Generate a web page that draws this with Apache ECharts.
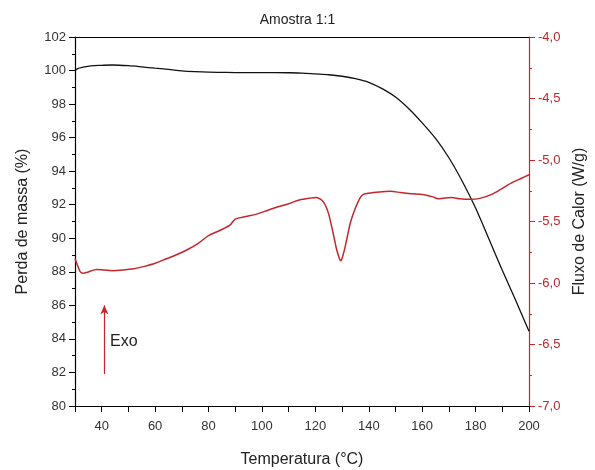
<!DOCTYPE html>
<html>
<head>
<meta charset="utf-8">
<script src="https://cdn.jsdelivr.net/npm/echarts@6/dist/echarts.min.js"></script>
<style>html,body{margin:0;padding:0;background:#fff}#c{width:595px;height:470px}</style>
</head>
<body>
<div id="c"></div>
<script>
// TGA (mass loss, left axis)
const tgaTemp = [30, 31, 33, 36, 40, 44, 50, 55, 60, 65, 70, 75, 80, 85, 90, 95, 100, 105, 110, 115, 120, 125, 130, 135, 140, 145, 150, 155, 160, 165, 170, 175, 180, 185, 190, 195, 200];
const tgaMass = [100.0, 100.12, 100.2, 100.28, 100.31, 100.33, 100.29, 100.22, 100.14, 100.07, 99.98, 99.93, 99.9, 99.89, 99.88, 99.88, 99.88, 99.88, 99.87, 99.85, 99.8, 99.75, 99.66, 99.52, 99.3, 98.92, 98.42, 97.72, 96.88, 95.95, 94.8, 93.4, 91.8, 89.95, 88.1, 86.3, 84.45];
// DSC (heat flow, right axis)
const dscTemp = [30, 31, 32, 33, 35, 38, 41, 44, 48, 52, 56, 60, 64, 68, 72, 76, 80, 84, 88, 90, 94, 98, 102, 106, 110, 114, 118, 120.5, 122, 123, 124, 125, 126, 127, 128, 129, 129.5, 130, 131, 132, 133, 134, 135, 136, 137, 138, 140, 144, 148, 152, 156, 160, 164, 166, 168, 171, 174, 178, 182, 186, 190, 194, 197, 200];
const dscHeat = [-5.8, -5.86, -5.91, -5.92, -5.91, -5.89, -5.895, -5.9, -5.895, -5.885, -5.865, -5.84, -5.805, -5.77, -5.73, -5.68, -5.615, -5.575, -5.53, -5.48, -5.46, -5.44, -5.41, -5.38, -5.355, -5.325, -5.31, -5.305, -5.32, -5.34, -5.38, -5.44, -5.53, -5.63, -5.73, -5.8, -5.82, -5.8, -5.72, -5.62, -5.52, -5.45, -5.39, -5.34, -5.3, -5.28, -5.27, -5.26, -5.255, -5.265, -5.275, -5.28, -5.3, -5.315, -5.31, -5.305, -5.315, -5.32, -5.31, -5.28, -5.23, -5.18, -5.15, -5.12];
const xTicks = [40, 60, 80, 100, 120, 140, 160, 180, 200];

const RED = '#c1272d';
const FONT = 'Liberation Sans, Arial, sans-serif';
const chart = echarts.init(document.getElementById('c'));
chart.setOption({
  animation: false,
  textStyle: { fontFamily: FONT },
  title: { text: 'Amostra 1:1', left: 'center', top: 8, textStyle: { fontSize: 14, fontWeight: 'normal', color: '#222', fontFamily: FONT } },
  grid: { left: 75, right: 66, top: 37, bottom: 64, containLabel: false, outerBoundsMode: 'none' },
  xAxis: [{
    type: 'value', min: 30, max: 200, interval: 10,
    name: 'Temperatura (°C)', nameLocation: 'middle', nameGap: 46,
    nameTextStyle: { fontSize: 16, color: '#222', fontFamily: FONT },
    axisLine: { lineStyle: { color: '#000', width: 1.2 } },
    axisTick: { inside: false, length: 6, lineStyle: { color: '#000' } },
    axisLabel: { fontSize: 13, color: '#333', margin: 14, formatter: v => xTicks.includes(v) ? String(v) : '' },
    splitLine: { show: false }
  }, {
    type: 'value', min: 30, max: 200, position: 'top',
    axisLine: { show: true, onZero: false, lineStyle: { color: '#000', width: 1.2 } },
    axisTick: { show: false }, axisLabel: { show: false }, splitLine: { show: false }
  }],
  yAxis: [{
    type: 'value', min: 80, max: 102, interval: 2,
    name: 'Perda de massa (%)', nameLocation: 'middle', nameGap: 44,
    nameTextStyle: { fontSize: 16, color: '#222', fontFamily: FONT },
    axisLine: { show: true, lineStyle: { color: '#000', width: 1.2 } },
    axisTick: { show: true, length: 6, lineStyle: { color: '#000' } },
    minorTick: { show: true, splitNumber: 2, length: 3, lineStyle: { color: '#000' } },
    axisLabel: { fontSize: 13, color: '#333', margin: 9 },
    splitLine: { show: false }
  }, {
    type: 'value', min: -7, max: -4, interval: 0.5, position: 'right',
    name: 'Fluxo de Calor (W/g)', nameLocation: 'middle', nameGap: 42, nameRotate: 90,
    nameTextStyle: { fontSize: 16, color: '#222', fontFamily: FONT },
    axisLine: { show: true, lineStyle: { color: RED, width: 1.2 } },
    axisTick: { show: true, length: 6, lineStyle: { color: RED } },
    minorTick: { show: true, splitNumber: 2, length: 3, lineStyle: { color: RED } },
    axisLabel: { fontSize: 13, color: RED, margin: 9, formatter: v => v.toFixed(1).replace('.', ',') },
    splitLine: { show: false }
  }],
  series: [{
    type: 'line', xAxisIndex: 0, yAxisIndex: 0, showSymbol: false, smooth: 0.3,
    lineStyle: { color: '#111', width: 1.3 },
    data: tgaTemp.map((t, i) => [t, tgaMass[i]]),
    markLine: {
      silent: true, symbol: ['none', 'arrow'], symbolSize: [6, 9],
      lineStyle: { color: RED, width: 1.2, type: 'solid' },
      label: { show: false },
      data: [[{ coord: [41, 81.9] }, { coord: [41, 86.0] }]]
    }
  }, {
    type: 'line', xAxisIndex: 0, yAxisIndex: 1, showSymbol: false, smooth: 0.3,
    lineStyle: { color: RED, width: 1.5 },
    data: dscTemp.map((t, i) => [t, dscHeat[i]])
  }],
  graphic: [{
    type: 'text', left: 110, top: 334,
    style: { text: 'Exo', fontSize: 16, fill: '#222', fontFamily: FONT }
  }]
});
</script>
</body>
</html>
